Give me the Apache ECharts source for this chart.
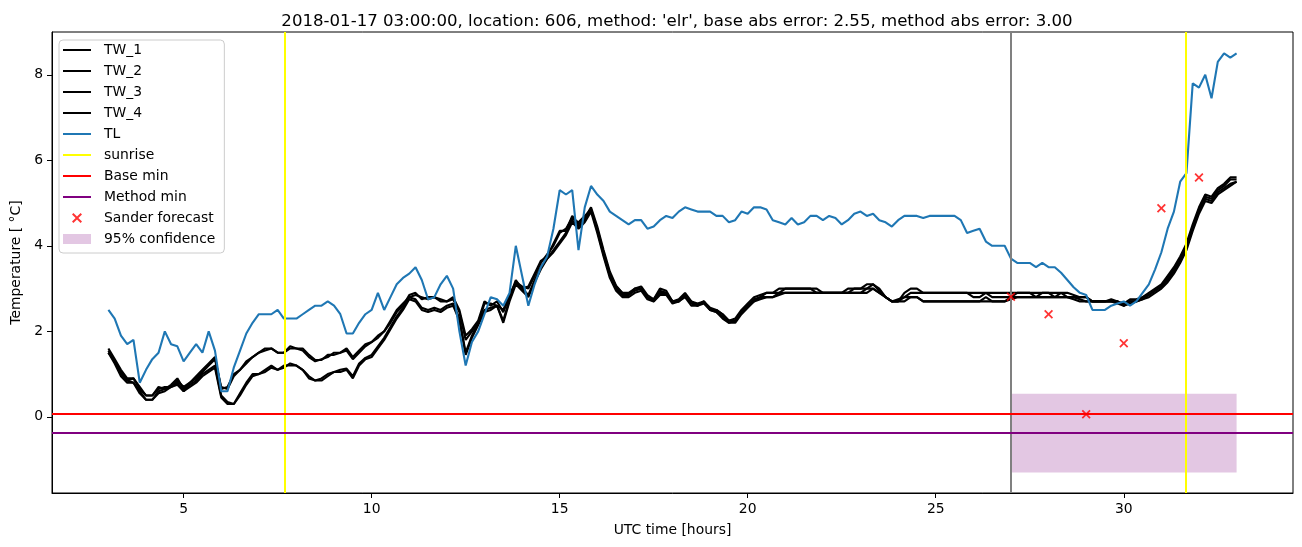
<!DOCTYPE html>
<html><head><meta charset="utf-8">
<script src="https://cdn.jsdelivr.net/npm/echarts@6/dist/echarts.min.js"></script>
<style>html,body{margin:0;padding:0;background:#fff}#c{width:1302px;height:547px}</style>
</head><body><div id="c"></div><script>
// ---- data ----
const START_HOUR = 3;
const STEP_HOURS = 1 / 6; // 10-minute samples
const TW_1 = [1.6,1.35,1.1,0.9,0.9,0.65,0.5,0.5,0.7,0.65,
0.75,0.9,0.65,0.8,0.95,1.1,1.25,1.4,0.65,0.7,
1.0,1.1,1.3,1.4,1.5,1.6,1.6,1.5,1.5,1.65,
1.6,1.6,1.45,1.33,1.33,1.45,1.45,1.5,1.6,1.4,
1.55,1.7,1.75,1.9,2.0,2.2,2.45,2.6,2.85,2.9,
2.75,2.8,2.8,2.7,2.7,2.8,2.5,1.9,2.05,2.25,
2.7,2.6,2.7,2.45,2.8,3.2,3.0,3.05,3.35,3.65,
3.75,4.05,4.35,4.35,4.7,4.5,4.65,4.9,4.45,3.9,
3.4,3.07,2.9,2.9,3.0,3.05,2.85,2.75,3.0,2.95,
2.7,2.75,2.9,2.7,2.65,2.7,2.55,2.5,2.4,2.25,
2.3,2.5,2.65,2.8,2.85,2.9,2.9,3.0,3.0,3.0,
3.0,3.0,3.0,3.0,2.9,2.9,2.9,2.9,3.0,3.0,
3.0,3.1,3.1,2.95,2.8,2.7,2.7,2.9,3.0,3.0,
2.9,2.9,2.9,2.9,2.9,2.9,2.9,2.9,2.9,2.9,
2.9,2.9,2.9,2.9,2.9,2.9,2.9,2.9,2.9,2.9,
2.9,2.9,2.9,2.9,2.85,2.8,2.8,2.7,2.7,2.7,
2.75,2.7,2.65,2.75,2.75,2.8,2.9,3.0,3.1,3.3,
3.5,3.75,4.05,4.5,4.9,5.2,5.15,5.35,5.45,5.6,
5.6];
const TW_2 = [1.55,1.3,1.05,0.85,0.9,0.7,0.5,0.5,0.65,0.7,
0.7,0.85,0.7,0.8,0.9,1.05,1.2,1.35,0.7,0.65,
0.95,1.1,1.25,1.4,1.5,1.55,1.6,1.5,1.5,1.6,
1.6,1.55,1.4,1.3,1.35,1.4,1.5,1.5,1.55,1.35,
1.5,1.65,1.75,1.85,2.0,2.25,2.5,2.65,2.8,2.85,
2.8,2.75,2.8,2.75,2.7,2.75,2.45,1.8,2.0,2.2,
2.65,2.65,2.6,2.5,2.85,3.15,3.05,3.0,3.3,3.6,
3.8,4.0,4.3,4.4,4.65,4.55,4.7,4.85,4.4,3.85,
3.35,3.05,2.9,2.85,3.0,3.0,2.8,2.75,2.95,2.9,
2.7,2.7,2.85,2.7,2.6,2.7,2.5,2.5,2.4,2.25,
2.25,2.45,2.6,2.75,2.8,2.9,2.9,2.9,3.0,3.0,
3.0,3.0,3.0,2.9,2.9,2.9,2.9,2.9,2.9,3.0,
3.0,3.0,3.1,3.0,2.8,2.7,2.75,2.8,2.9,2.9,
2.9,2.9,2.9,2.9,2.9,2.9,2.9,2.9,2.8,2.8,
2.9,2.8,2.8,2.8,2.8,2.9,2.9,2.9,2.8,2.9,
2.9,2.8,2.9,2.8,2.8,2.8,2.8,2.7,2.7,2.7,
2.7,2.7,2.6,2.7,2.7,2.8,2.85,2.95,3.05,3.25,
3.45,3.7,4.0,4.45,4.85,5.15,5.1,5.3,5.4,5.55,
5.55];
const TW_3 = [1.5,1.3,1.0,0.85,0.8,0.6,0.4,0.4,0.6,0.65,
0.7,0.8,0.6,0.75,0.85,1.0,1.1,1.2,0.5,0.35,
0.3,0.55,0.8,1.0,1.0,1.1,1.2,1.1,1.2,1.2,
1.2,1.1,0.95,0.85,0.9,1.0,1.05,1.1,1.13,0.95,
1.25,1.38,1.45,1.65,1.85,2.1,2.35,2.55,2.8,2.75,
2.55,2.5,2.55,2.5,2.6,2.65,2.3,1.5,1.9,2.2,
2.5,2.55,2.6,2.25,2.75,3.15,3.0,2.85,3.2,3.5,
3.7,3.9,4.1,4.3,4.6,4.45,4.6,4.85,4.35,3.8,
3.3,3.0,2.85,2.85,2.95,3.0,2.8,2.7,2.9,2.9,
2.7,2.7,2.85,2.65,2.6,2.7,2.5,2.45,2.35,2.2,
2.25,2.45,2.6,2.7,2.8,2.8,2.8,2.9,2.9,2.9,
2.9,2.9,2.9,2.9,2.9,2.9,2.9,2.9,2.9,2.9,
2.9,3.0,3.0,2.9,2.8,2.7,2.7,2.8,2.8,2.8,
2.7,2.7,2.7,2.7,2.7,2.7,2.7,2.7,2.7,2.7,
2.8,2.7,2.7,2.7,2.75,2.8,2.8,2.8,2.8,2.8,
2.8,2.8,2.8,2.8,2.8,2.75,2.7,2.7,2.7,2.7,
2.7,2.7,2.6,2.7,2.7,2.75,2.85,2.95,3.05,3.2,
3.4,3.65,3.95,4.4,4.8,5.1,5.05,5.25,5.35,5.45,
5.5];
const TW_4 = [1.5,1.25,0.95,0.8,0.8,0.55,0.4,0.4,0.55,0.6,
0.7,0.75,0.6,0.7,0.8,0.95,1.05,1.15,0.45,0.3,
0.3,0.5,0.75,0.95,1.0,1.05,1.15,1.1,1.15,1.25,
1.2,1.1,0.9,0.85,0.85,0.95,1.05,1.05,1.1,0.9,
1.2,1.35,1.4,1.6,1.8,2.05,2.3,2.5,2.75,2.7,
2.5,2.45,2.5,2.45,2.55,2.6,2.25,1.45,1.85,2.15,
2.45,2.5,2.6,2.2,2.7,3.1,2.95,2.8,3.15,3.45,
3.7,3.85,4.05,4.25,4.55,4.4,4.55,4.8,4.3,3.75,
3.25,2.95,2.8,2.8,2.9,2.95,2.75,2.7,2.85,2.85,
2.65,2.7,2.8,2.6,2.6,2.65,2.5,2.45,2.3,2.2,
2.2,2.4,2.55,2.7,2.75,2.8,2.8,2.85,2.9,2.9,
2.9,2.9,2.9,2.9,2.9,2.9,2.9,2.9,2.9,2.9,
2.9,2.9,3.0,2.9,2.8,2.7,2.7,2.7,2.8,2.8,
2.7,2.7,2.7,2.7,2.7,2.7,2.7,2.7,2.7,2.7,
2.7,2.7,2.7,2.7,2.8,2.8,2.8,2.8,2.8,2.8,
2.8,2.8,2.8,2.8,2.75,2.7,2.7,2.7,2.7,2.7,
2.7,2.65,2.6,2.65,2.7,2.75,2.8,2.9,3.0,3.15,
3.35,3.6,3.9,4.35,4.75,5.05,5.0,5.2,5.3,5.4,
5.5];
const TL = [2.5,2.3,1.9,1.7,1.8,0.8,1.1,1.35,1.5,2.0,
1.7,1.65,1.3,1.5,1.7,1.5,2.0,1.55,0.6,0.6,
1.15,1.55,1.95,2.2,2.4,2.4,2.4,2.5,2.3,2.3,
2.3,2.4,2.5,2.6,2.6,2.7,2.6,2.4,1.95,1.95,
2.2,2.4,2.5,2.9,2.5,2.8,3.1,3.25,3.35,3.5,
3.2,2.75,2.8,3.1,3.3,3.0,2.0,1.2,1.75,2.0,
2.4,2.8,2.75,2.6,2.9,4.0,3.3,2.6,3.1,3.5,
3.75,4.4,5.3,5.2,5.3,3.9,4.9,5.4,5.2,5.05,
4.8,4.7,4.6,4.5,4.6,4.6,4.4,4.45,4.6,4.7,
4.65,4.8,4.9,4.85,4.8,4.8,4.8,4.7,4.7,4.55,
4.6,4.8,4.75,4.9,4.9,4.85,4.6,4.55,4.5,4.65,
4.5,4.55,4.7,4.7,4.6,4.7,4.65,4.5,4.6,4.75,
4.8,4.7,4.75,4.6,4.55,4.45,4.6,4.7,4.7,4.7,
4.65,4.7,4.7,4.7,4.7,4.7,4.6,4.3,4.35,4.4,
4.1,4.0,4.0,4.0,3.7,3.6,3.6,3.6,3.5,3.6,
3.5,3.5,3.37,3.2,3.03,2.9,2.85,2.5,2.5,2.5,
2.6,2.65,2.7,2.6,2.7,2.9,3.1,3.45,3.85,4.4,
4.8,5.5,5.7,7.8,7.7,8.0,7.45,8.3,8.5,8.4,
8.5];
const SANDER_HOURS = [27, 28, 29, 30, 31, 32];
const SANDER_VALUES = [2.81, 2.40, 0.06, 1.72, 4.88, 5.60];
const SUNRISE_HOURS = [7.68, 31.66];
const FORECAST_START = 27;
const BASE_MIN = 0.07;
const METHOD_MIN = -0.37;
const CONF_HOURS = [27, 33];
const CONF_RANGE = [-1.30, 0.54];
const X_TICKS = [5, 10, 15, 20, 25, 30];
const Y_TICKS = [0, 2, 4, 6, 8];
const TITLE = "2018-01-17 03:00:00, location: 606, method: 'elr', base abs error: 2.55, method abs error: 3.00";

// ---- chart ----
const hours = TL.map((_, i) => START_HOUR + i * STEP_HOURS);
const pairs = arr => arr.map((v, i) => [hours[i], v]);
const FONT = 'DejaVu Sans';
const LINE_ICON = 'path://M0,0H28V2H0Z';
const X_ICON = 'path://M0,1.4L1.4,0L5,3.6L8.6,0L10,1.4L6.4,5L10,8.6L8.6,10L5,6.4L1.4,10L0,8.6L3.6,5Z';
const CONF_COLOR = 'rgba(128,0,128,0.22)';

function lineSeries(name, data, color) {
  return { name, type: 'line', data: pairs(data), showSymbol: false, symbol: 'none',
    lineStyle: { color, width: 2.1 }, itemStyle: { color }, z: 3, animation: false };
}
function markLineSeries(name, color, items, z) {
  return { name, type: 'line', data: [], itemStyle: { color }, lineStyle: { color }, z,
    markLine: { silent: true, symbol: ['none', 'none'], label: { show: false }, animation: false,
      lineStyle: { color, width: 2, type: 'solid' }, data: items } };
}

const chart = echarts.init(document.getElementById('c'), null, { renderer: 'canvas' });
chart.setOption({
  animation: false,
  backgroundColor: '#fff',
  textStyle: { fontFamily: FONT },
  title: { text: TITLE, left: 672, top: 8, textAlign: 'center',
    textStyle: { fontFamily: FONT, fontSize: 16.6, fontWeight: 'normal', color: '#000' } },
  grid: { left: 52, right: 9, top: 32, bottom: 54, show: true, borderColor: '#000', borderWidth: 1, backgroundColor: 'transparent' },
  legend: {
    orient: 'vertical', left: 59, top: 40, padding: [3, 9, 7, 4],
    itemWidth: 28, itemHeight: 10, itemGap: 7, symbolKeepAspect: true,
    backgroundColor: 'rgba(255,255,255,0.8)', borderColor: '#cccccc', borderWidth: 1, borderRadius: 4,
    textStyle: { fontFamily: FONT, fontSize: 13.9, color: '#000', lineHeight: 14, padding: [0, 0, 0, 8] },
    data: [
      { name: 'TW_1', icon: LINE_ICON }, { name: 'TW_2', icon: LINE_ICON },
      { name: 'TW_3', icon: LINE_ICON }, { name: 'TW_4', icon: LINE_ICON },
      { name: 'TL', icon: LINE_ICON }, { name: 'sunrise', icon: LINE_ICON },
      { name: 'Base min', icon: LINE_ICON }, { name: 'Method min', icon: LINE_ICON },
      { name: 'Sander forecast', icon: X_ICON }, { name: '95% confidence', icon: 'rect' }
    ]
  },
  xAxis: {
    type: 'value', min: 1.5, max: 34.5,
    name: 'UTC time [hours]', nameLocation: 'middle', nameGap: 30,
    nameTextStyle: { fontFamily: FONT, fontSize: 13.9, color: '#000' },
    axisLine: { show: true, onZero: false, lineStyle: { color: '#000', width: 1 } },
    axisTick: { show: true, length: 5, lineStyle: { color: '#000' }, customValues: X_TICKS },
    axisLabel: { color: '#000', fontSize: 13.9, fontFamily: FONT, margin: 9, customValues: X_TICKS },
    splitLine: { show: false }
  },
  yAxis: {
    type: 'value', min: -1.78, max: 9.0,
    name: 'Temperature [ °C]', nameLocation: 'middle', nameGap: 26, nameRotate: 90,
    nameTextStyle: { fontFamily: FONT, fontSize: 13.9, color: '#000' },
    axisLine: { show: true, onZero: false, lineStyle: { color: '#000', width: 1 } },
    axisTick: { show: true, length: 5, lineStyle: { color: '#000' }, customValues: Y_TICKS },
    axisLabel: { color: '#000', fontSize: 13.9, fontFamily: FONT, margin: 9, customValues: Y_TICKS },
    splitLine: { show: false }
  },
  series: [
    { name: '95% confidence', type: 'line', data: [], itemStyle: { color: CONF_COLOR }, z: 1,
      markArea: { silent: true, itemStyle: { color: CONF_COLOR }, label: { show: false },
        data: [[{ xAxis: CONF_HOURS[0], yAxis: CONF_RANGE[1] }, { xAxis: CONF_HOURS[1], yAxis: CONF_RANGE[0] }]] } },
    lineSeries('TW_1', TW_1, '#000000'),
    lineSeries('TW_2', TW_2, '#000000'),
    lineSeries('TW_3', TW_3, '#000000'),
    lineSeries('TW_4', TW_4, '#000000'),
    lineSeries('TL', TL, '#1f77b4'),
    markLineSeries('forecast start', '#808080', [{ xAxis: FORECAST_START }], 2),
    markLineSeries('sunrise', '#ffff00', SUNRISE_HOURS.map(h => ({ xAxis: h })), 4),
    markLineSeries('Base min', '#ff0000', [{ yAxis: BASE_MIN }], 4),
    markLineSeries('Method min', '#800080', [{ yAxis: METHOD_MIN }], 4),
    { name: 'Sander forecast', type: 'scatter', symbol: X_ICON, symbolSize: 9, z: 5,
      itemStyle: { color: '#ff0000' },
      data: SANDER_HOURS.map((h, i) => [h, SANDER_VALUES[i]]) }
  ]
});
</script></body></html>
